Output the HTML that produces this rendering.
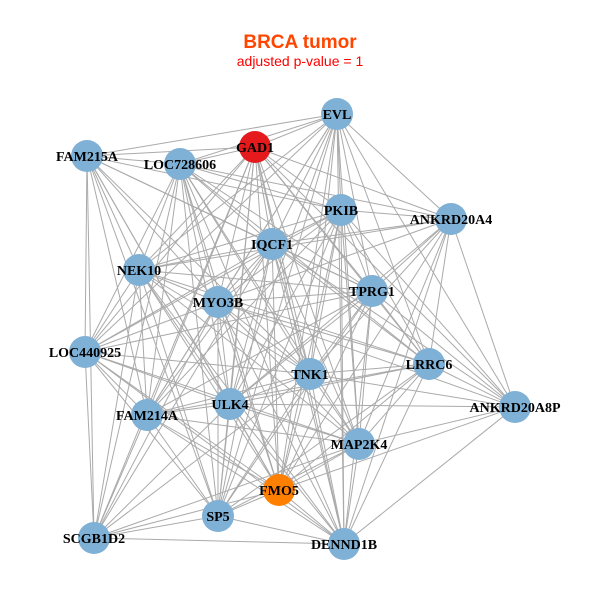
<!DOCTYPE html>
<html><head><style>
html,body{margin:0;padding:0;background:#fff;width:600px;height:600px;overflow:hidden}
</style></head><body>
<svg id="s" width="600" height="600" xmlns="http://www.w3.org/2000/svg">
<text x="300" y="48" text-anchor="middle" font-family="Liberation Sans, sans-serif" font-weight="bold" font-size="19" fill="#ff4500">BRCA tumor</text>
<text x="300" y="66" text-anchor="middle" font-family="Liberation Sans, sans-serif" font-size="14" fill="#ff0000">adjusted p-value = 1</text>
<g id="e" stroke="#aaaaaa" stroke-width="1"></g>
<g id="n"></g>
</svg>
<script>
var N=[["EVL",337,114,"#7fb0d5"],["GAD1",255,147,"#e41a1c"],["FAM215A",87,156,"#7fb0d5"],["LOC728606",180,164,"#7fb0d5"],["PKIB",341,210,"#7fb0d5"],["ANKRD20A4",451,219,"#7fb0d5"],["IQCF1",272,244,"#7fb0d5"],["NEK10",139,270,"#7fb0d5"],["TPRG1",372,291,"#7fb0d5"],["MYO3B",218,302,"#7fb0d5"],["LOC440925",85,352,"#7fb0d5"],["LRRC6",429,364,"#7fb0d5"],["TNK1",310,374,"#7fb0d5"],["ANKRD20A8P",515,407,"#7fb0d5"],["ULK4",230,404,"#7fb0d5"],["FAM214A",147,415,"#7fb0d5"],["MAP2K4",359,444,"#7fb0d5"],["FMO5",279,490,"#ff7f00"],["SP5",218,516,"#7fb0d5"],["SCGB1D2",94,538,"#7fb0d5"],["DENND1B",344,544,"#7fb0d5"]];
var ns="http://www.w3.org/2000/svg",e=document.getElementById("e"),g=document.getElementById("n");
var skip={"2-5":1,"2-13":1,"19-13":1,"19-5":1,"10-13":1,"19-0":1,"2-20":1,"10-5":1,"15-5":1,"2-16":1,"19-11":1,"19-8":1,"10-11":1,"2-11":1,"15-13":1,"19-4":1,"18-5":1,"18-13":1,"7-13":1,"3-13":1};
for(var i=0;i<N.length;i++)for(var j=i+1;j<N.length;j++){
 if(skip[i+"-"+j]||skip[j+"-"+i])continue;
 var l=document.createElementNS(ns,"line");
 l.setAttribute("x1",N[i][1]);l.setAttribute("y1",N[i][2]);l.setAttribute("x2",N[j][1]);l.setAttribute("y2",N[j][2]);e.appendChild(l);}
N.forEach(function(d){var c=document.createElementNS(ns,"circle");c.setAttribute("cx",d[1]);c.setAttribute("cy",d[2]);c.setAttribute("r",16);c.setAttribute("fill",d[3]);g.appendChild(c);});
N.forEach(function(d){var t=document.createElementNS(ns,"text");t.setAttribute("x",d[1]);t.setAttribute("y",d[2]+5);t.setAttribute("text-anchor","middle");t.setAttribute("font-family","Liberation Serif, serif");t.setAttribute("font-weight","bold");t.setAttribute("font-size","14");t.textContent=d[0];g.appendChild(t);});
</script>
</body></html>
